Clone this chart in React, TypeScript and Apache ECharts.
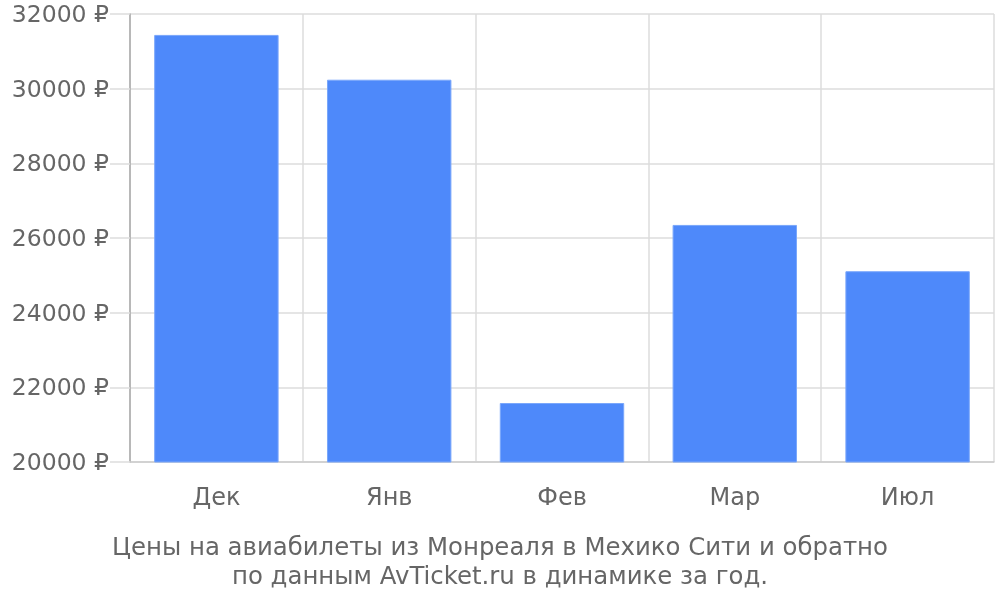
import { useEffect, useRef } from 'react';
import * as echarts from 'echarts';

const months = ['Дек', 'Янв', 'Фев', 'Мар', 'Июл'];
const prices = [31440, 30240, 21580, 26350, 25110];
const titleLines = [
    'Цены на авиабилеты из Монреаля в Мехико Сити и обратно',
    'по данным AvTicket.ru в динамике за год.',
];

const font = '"DejaVu Sans", sans-serif';

export default function App() {
    const chartRef = useRef<HTMLDivElement>(null);

    useEffect(() => {
        const myChart = echarts.init(chartRef.current, null, { renderer: 'svg' });

        myChart.setOption({
            animation: false,
            title: {
                text: titleLines.join('\n'),
                left: 'center',
                top: 532,
                padding: 0,
                textStyle: {
                    fontFamily: font,
                    fontSize: 24.4,
                    fontWeight: 'normal',
                    color: '#666',
                    lineHeight: 29,
                },
            },
            grid: { left: 130, right: 6, top: 14, bottom: 138 },
            xAxis: {
                type: 'category',
                data: months,
                axisLine: { lineStyle: { color: '#ccc', width: 1.5 } },
                axisTick: { length: 19, lineStyle: { color: '#ddd', width: 1.5 } },
                splitLine: { show: true, lineStyle: { color: '#ddd', width: 1.5 } },
                axisLabel: { fontFamily: font, fontSize: 24, color: '#666', margin: 23 },
            },
            yAxis: {
                type: 'value',
                min: 20000,
                max: 32000,
                interval: 2000,
                axisLine: { show: true, lineStyle: { color: '#aaa', width: 1.5 } },
                axisTick: { show: true, length: 20, lineStyle: { color: '#ddd', width: 1.5 } },
                splitLine: { lineStyle: { color: '#ddd', width: 1.5 } },
                axisLabel: {
                    fontFamily: font,
                    fontSize: 23.5,
                    color: '#666',
                    margin: 21,
                    formatter: (v: number) => v + ' ₽',
                },
            },
            series: [
                {
                    type: 'bar',
                    data: prices,
                    barCategoryGap: '28%',
                    itemStyle: {
                        color: '#4e89fa',
                        borderColor: '#7aa7fb',
                        borderWidth: 1,
                    },
                },
            ],
        });

        return () => {
            myChart.dispose();
        };
    }, []);

    return (
        <div
            ref={chartRef}
            style={{ position: 'fixed', left: 0, top: 0, width: '1000px', height: '600px' }}
        />
    );
}
